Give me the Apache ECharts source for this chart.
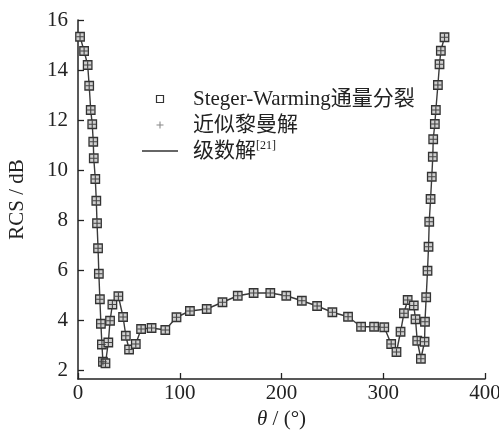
<!DOCTYPE html>
<html>
<head>
<meta charset="utf-8">
<script src="https://cdn.jsdelivr.net/npm/echarts@6/dist/echarts.min.js"></script>
<style>
  html, body { margin: 0; padding: 0; background: #fff; }
  #chart { width: 499px; height: 434px; }
</style>
</head>
<body>
<div id="chart"></div>
<script>
  // 入射角 θ (°)
  var theta = [2, 6, 9.5, 11, 12.5, 14, 15, 15.5, 17, 18, 18.7, 19.7, 20.5, 21.5, 22.5, 23.5, 24.5, 27,
    29.8, 31.5, 33.8, 39.7, 44.3, 47, 50.2, 56.8, 62, 72.3, 85.8, 96.8, 110, 126.5, 142, 157, 172.6,
    189, 204.7, 220, 235, 250, 265.4, 278.2, 291, 301, 307.8, 313, 317, 320.3, 324, 330, 331.7,
    333.4, 337, 340.6, 341, 342.2, 343.5, 344.5, 345.2, 346.5, 347.7, 348.7, 349.1, 350.7, 351.7,
    353.7, 355.3, 356.6, 360.2]
  // Steger-Warming通量分裂
  var rcsSW = [15.33, 14.76, 14.2, 13.37, 12.4, 11.83, 11.13, 10.47, 9.64, 8.77, 7.87, 6.87, 5.85,
    4.83, 3.85, 3.02, 2.33, 2.27, 3.1, 3.97, 4.62, 4.95, 4.12, 3.37, 2.82, 3.04, 3.64, 3.68, 3.6,
    4.11, 4.36, 4.44, 4.71, 4.97, 5.08, 5.08, 4.97, 4.77, 4.56, 4.31, 4.13, 3.73, 3.73, 3.71, 3.04,
    2.72, 3.53, 4.27, 4.8, 4.58, 4.03, 3.17, 2.45, 3.13, 3.93, 4.91, 5.97, 6.93, 7.93, 8.84, 9.73,
    10.53, 11.23, 11.84, 12.4, 13.4, 14.23, 14.77, 15.31]
  // 近似黎曼解
  var rcsRiemann = [15.33, 14.76, 14.2, 13.37, 12.4, 11.83, 11.13, 10.47, 9.64, 8.77, 7.87, 6.87, 5.85,
    4.83, 3.85, 3.02, 2.33, 2.27, 3.1, 3.97, 4.62, 4.95, 4.12, 3.37, 2.82, 3.04, 3.64, 3.68, 3.6,
    4.11, 4.36, 4.44, 4.71, 4.97, 5.08, 5.08, 4.97, 4.77, 4.56, 4.31, 4.13, 3.73, 3.73, 3.71, 3.04,
    2.72, 3.53, 4.27, 4.8, 4.58, 4.03, 3.17, 2.45, 3.13, 3.93, 4.91, 5.97, 6.93, 7.93, 8.84, 9.73,
    10.53, 11.23, 11.84, 12.4, 13.4, 14.23, 14.77, 15.31]
  // 级数解
  var rcsSeries = [15.33, 14.76, 14.2, 13.37, 12.4, 11.83, 11.13, 10.47, 9.64, 8.77, 7.87, 6.87, 5.85,
    4.83, 3.85, 3.02, 2.33, 2.27, 3.1, 3.97, 4.62, 4.95, 4.12, 3.37, 2.82, 3.04, 3.64, 3.68, 3.6,
    4.11, 4.36, 4.44, 4.71, 4.97, 5.08, 5.08, 4.97, 4.77, 4.56, 4.31, 4.13, 3.73, 3.73, 3.71, 3.04,
    2.72, 3.53, 4.27, 4.8, 4.58, 4.03, 3.17, 2.45, 3.13, 3.93, 4.91, 5.97, 6.93, 7.93, 8.84, 9.73,
    10.53, 11.23, 11.84, 12.4, 13.4, 14.23, 14.77, 15.31]
  var yTicks = [2, 4, 6, 8, 10, 12, 14, 16]
  var names = ['Steger-Warming通量分裂', '近似黎曼解', '级数解']

  var FONT = "'Liberation Serif', 'Noto Sans CJK SC', serif"
  var PLUS = 'path://M4.25,0H5.75V4.25H10V5.75H5.75V10H4.25V5.75H0V4.25H4.25Z'
  var SQUARE = 'path://M0,0H10V10H0Z'

  function pairs(ys) {
    return theta.map(function (t, i) { return [t, ys[i]] })
  }

  var chart = echarts.init(document.getElementById('chart'))
  var option = {
    animation: false,
    backgroundColor: '#fff',
    grid: { left: 78, right: 14, top: 20, bottom: 55, containLabel: false, outerBoundsMode: 'none' },
    legend: {
      orient: 'vertical',
      left: 137,
      top: 83,
      itemWidth: 36,
      itemHeight: 7,
      itemGap: 4,
      symbolKeepAspect: true,
      selectedMode: false,
      data: [
        { name: names[0], icon: SQUARE, itemStyle: { color: '#fff', borderColor: '#333', borderWidth: 1.2 } },
        { name: names[1], icon: PLUS, itemStyle: { color: '#888', borderWidth: 0 } },
        { name: names[2], icon: 'path://M0,0H36V1.4H0Z', itemStyle: { color: '#333', borderWidth: 0 } }
      ],
      formatter: function (n) {
        return '{sp| }' + (n === names[2] ? n + '{sup|[21]}' : n)
      },
      textStyle: {
        fontFamily: FONT, fontSize: 21, color: '#222', lineHeight: 22,
        rich: {
          sp: { width: 10 },
          sup: { fontFamily: FONT, fontSize: 12, color: '#222', verticalAlign: 'top', lineHeight: 12 }
        }
      }
    },
    xAxis: {
      type: 'value',
      min: 0,
      max: 400,
      interval: 100,
      name: '{i|θ} / (°)',
      nameLocation: 'middle',
      nameGap: 30,
      nameTextStyle: {
        fontFamily: FONT, fontSize: 21, color: '#222',
        rich: { i: { fontFamily: FONT, fontSize: 21, fontStyle: 'italic', color: '#222' } }
      },
      axisLine: { lineStyle: { color: '#222', width: 1.5 } },
      axisTick: { inside: true, length: 6, lineStyle: { color: '#222', width: 1.3 } },
      axisLabel: { fontFamily: FONT, fontSize: 21, color: '#222', margin: 4 },
      splitLine: { show: false }
    },
    yAxis: {
      type: 'value',
      min: 1.64,
      max: 16,
      name: 'RCS / dB',
      nameLocation: 'middle',
      nameGap: 50,
      nameTextStyle: { fontFamily: FONT, fontSize: 21, color: '#222' },
      axisLine: { show: true, lineStyle: { color: '#222', width: 1.5 } },
      axisTick: { show: true, inside: true, length: 6, customValues: yTicks, lineStyle: { color: '#222', width: 1.3 } },
      axisLabel: { fontFamily: FONT, fontSize: 21, color: '#222', margin: 10, customValues: yTicks },
      splitLine: { show: false }
    },
    series: [
      {
        name: names[2],
        type: 'line',
        data: pairs(rcsSeries),
        showSymbol: false,
        symbol: 'none',
        lineStyle: { color: '#3a3a3a', width: 1.4 },
        z: 1
      },
      {
        name: names[0],
        type: 'scatter',
        data: pairs(rcsSW),
        symbol: 'rect',
        symbolSize: 8.5,
        itemStyle: { color: '#cfcfcf', borderColor: '#333', borderWidth: 1.3, opacity: 1 },
        z: 2
      },
      {
        name: names[1],
        type: 'scatter',
        data: pairs(rcsRiemann),
        symbol: PLUS,
        symbolSize: 7.5,
        itemStyle: { color: '#444', opacity: 1 },
        z: 3
      }
    ]
  }
  chart.setOption(option)
</script>
</body>
</html>
